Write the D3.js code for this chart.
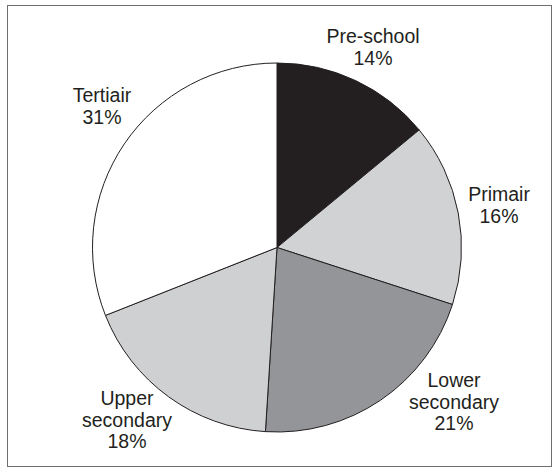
<!DOCTYPE html>
<html>
<head>
<meta charset="utf-8">
<script src="https://cdn.jsdelivr.net/npm/d3@7"></script>
<style>
  html, body { margin: 0; padding: 0; background: #fff; }
  svg { display: block; }
  text { font-family: "Liberation Sans", Arial, Helvetica, sans-serif; fill: #231f20; }
</style>
</head>
<body>
<svg id="chart" width="558" height="472"></svg>
<script>
// Data
const categories = ["Pre-school", "Primair", "Lower secondary", "Upper secondary", "Tertiair"];
const values = [14, 16, 21, 18, 31];
const labelLines = [["Pre-school", "14%"], ["Primair", "16%"], ["Lower", "secondary", "21%"], ["Upper", "secondary", "18%"], ["Tertiair", "31%"]];

// Styles / layout
const colors = ["#231f20", "#d1d2d4", "#939598", "#cfd0d2", "#ffffff"];
const labelPos = [[373, 43], [499, 201], [454, 387], [127, 405], [102, 102]];
const lineHeight = 21.5;

const svg = d3.select("#chart");
svg.append("rect")
  .attr("x", 7.5).attr("y", 5.5).attr("width", 544).attr("height", 461)
  .attr("fill", "none").attr("stroke", "#6d6e71").attr("stroke-width", 1);

const cx = 277, cy = 247.5, r = 184.5;
const pie = d3.pie().sort(null).value(d => d)(values);
const arc = d3.arc().innerRadius(0).outerRadius(r);

const g = svg.append("g").attr("transform", `translate(${cx},${cy})`);
g.selectAll("path.slice").data(pie).enter().append("path")
  .attr("class", "slice")
  .attr("d", arc)
  .attr("fill", (d, i) => colors[i])
  .attr("stroke", "#231f20")
  .attr("stroke-width", 1)
  .attr("stroke-linejoin", "round");

const labels = svg.selectAll("text.lbl").data(categories).enter().append("text")
  .attr("class", "lbl")
  .attr("text-anchor", "middle")
  .attr("font-size", "19.5px")
  .attr("x", (d, i) => labelPos[i][0])
  .attr("y", (d, i) => labelPos[i][1]);
labels.each(function(d, i) {
  const t = d3.select(this);
  labelLines[i].forEach((line, j) => {
    t.append("tspan")
      .attr("x", labelPos[i][0])
      .attr("y", labelPos[i][1] + j * lineHeight)
      .text(line);
  });
});
</script>
</body>
</html>
